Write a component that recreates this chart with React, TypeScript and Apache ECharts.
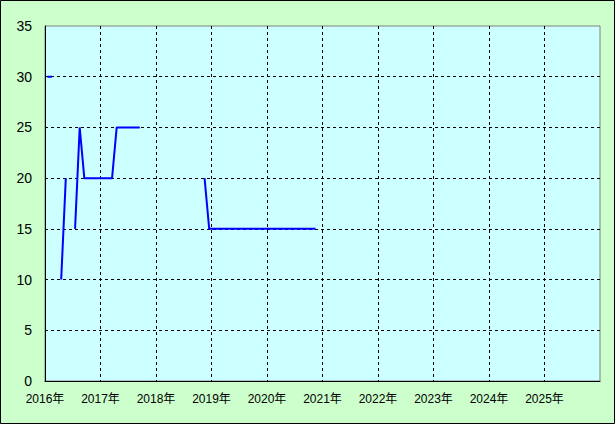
import React, { useEffect, useRef } from "react";
import * as echarts from "echarts";

// Monthly values starting January 2016 (null = no data)
const startYear = 2016;
const values2016: (number | null)[] = [30, 30, null, 10, 20, null, 15, 25, 20, 20, 20, 20];
const values2017: (number | null)[] = [20, 20, 20, 25, 25, 25, 25, 25, 25, null, null, null];
const values2018: (number | null)[] = [null, null, null, null, null, null, null, null, null, null, 20, 15];
const values2019: (number | null)[] = [15, 15, 15, 15, 15, 15, 15, 15, 15, 15, 15, 15];
const values2020: (number | null)[] = [15, 15, 15, 15, 15, 15, 15, 15, 15, 15, 15];
const yearTicks = [2016, 2017, 2018, 2019, 2020, 2021, 2022, 2023, 2024, 2025, 2026];
const yTicks = [0, 5, 10, 15, 20, 25, 30, 35];

const monthly = [...values2016, ...values2017, ...values2018, ...values2019, ...values2020];

export default function App() {
  const ref = useRef<HTMLDivElement>(null);
  useEffect(() => {
    if (!ref.current) return;
    const chart = echarts.init(ref.current, null, { renderer: "svg" });
    const data = monthly.map((v, i) => [startYear + (i + 0.5) / 12, v]);
    const font = "'Liberation Sans', 'Noto Sans CJK JP', sans-serif";
    chart.setOption({
      animation: false,
      backgroundColor: "#CCFFCC",
      graphic: [
        {
          type: "rect",
          shape: { x: 0.5, y: 0.5, width: 614, height: 423 },
          style: { fill: "none", stroke: "#000", lineWidth: 1 },
          silent: true,
          z: 100,
        },
      ],
      grid: {
        left: 45,
        top: 26,
        right: 15,
        bottom: 43,
        show: true,
        backgroundColor: "#CCFFFF",
        borderColor: "#808080",
        borderWidth: 1,
      },
      xAxis: {
        type: "value",
        min: yearTicks[0],
        max: yearTicks[yearTicks.length - 1],
        interval: 1,
        axisLine: { show: true, onZero: false, lineStyle: { color: "#000", width: 1 } },
        axisTick: { show: false },
        splitLine: {
          show: true,
          showMinLine: false,
          showMaxLine: false,
          lineStyle: { color: "#000", type: [3, 3], width: 1 },
        },
        axisLabel: {
          color: "#000",
          fontSize: 12,
          fontFamily: font,
          margin: 12,
          showMaxLabel: false,
          formatter: (v: number) => `${v}年`,
        },
      },
      yAxis: {
        type: "value",
        min: yTicks[0],
        max: yTicks[yTicks.length - 1],
        interval: 5,
        axisLine: { show: true, lineStyle: { color: "#000", width: 1 } },
        axisTick: { show: false },
        splitLine: {
          show: true,
          showMinLine: false,
          showMaxLine: false,
          lineStyle: { color: "#000", type: [3, 3], width: 1 },
        },
        axisLabel: {
          color: "#000",
          fontSize: 14,
          fontFamily: font,
          margin: 13,
        },
      },
      series: [
        {
          type: "line",
          data,
          showSymbol: false,
          symbol: "none",
          connectNulls: false,
          lineStyle: { color: "#0000FF", width: 2 },
          itemStyle: { color: "#0000FF" },
        },
      ],
    });
    return () => chart.dispose();
  }, []);
  return (
    <div
      ref={ref}
      style={{ position: "fixed", left: 0, top: 0, width: 615, height: 424 }}
    />
  );
}
